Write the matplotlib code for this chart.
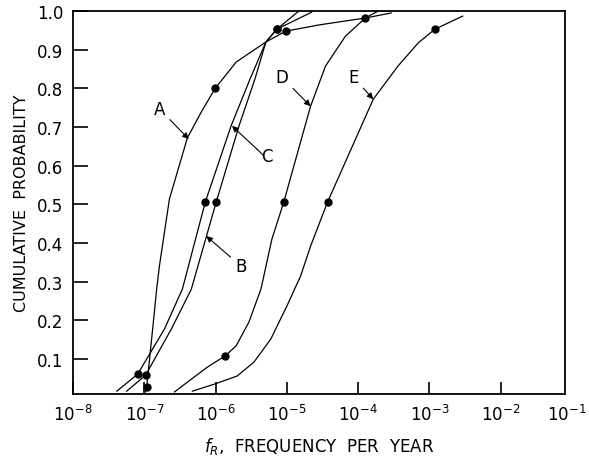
import matplotlib
matplotlib.use("Agg")
import matplotlib.pyplot as plt

plt.rcParams['font.family'] = ['DejaVu Sans']
plt.rcParams['mathtext.fontset'] = 'dejavusans'

# Curve data: frequency per year (x) and cumulative probability (y)
a_x = [1.04e-7, 1.08e-7, 1.31e-7, 1.49e-7, 1.63e-7, 2.25e-7, 4.02e-7, 6.3e-7, 9.87e-7, 1.94e-6, 5.08e-6, 9.66e-6, 2.79e-5, 1.26e-4, 2.9e-4]
a_y = [0.015, 0.028, 0.178, 0.281, 0.341, 0.514, 0.672, 0.739, 0.80, 0.868, 0.920, 0.948, 0.964, 0.982, 0.995]
a_dots_x = [1.08e-7, 9.87e-7, 9.66e-6]
a_dots_y = [0.028, 0.80, 0.948]

b_x = [5.66e-8, 1.04e-7, 2.40e-7, 4.57e-7, 1.02e-6, 2.13e-6, 3.56e-6, 5.08e-6, 7.22e-6, 2.22e-5]
b_y = [0.017, 0.058, 0.178, 0.281, 0.506, 0.703, 0.824, 0.920, 0.953, 0.997]
b_dots_x = [1.04e-7, 1.02e-6, 7.22e-6]
b_dots_y = [0.058, 0.506, 0.953]

c_x = [4.11e-8, 8.07e-8, 1.92e-7, 3.42e-7, 7.17e-7, 1.65e-6, 3.04e-6, 5.08e-6, 7.22e-6, 1.47e-5]
c_y = [0.017, 0.061, 0.178, 0.281, 0.506, 0.703, 0.824, 0.920, 0.953, 1.0]
c_dots_x = [8.07e-8, 7.17e-7, 7.22e-6]
c_dots_y = [0.061, 0.506, 0.953]

d_x = [2.65e-7, 4.57e-7, 7.64e-7, 1.36e-6, 1.94e-6, 2.94e-6, 4.33e-6, 6.16e-6, 9.05e-6, 2.15e-5, 3.49e-5, 6.63e-5, 1.26e-4, 1.91e-4]
d_y = [0.015, 0.048, 0.079, 0.108, 0.134, 0.196, 0.281, 0.410, 0.506, 0.754, 0.858, 0.935, 0.982, 1.0]
d_dots_x = [1.36e-6, 9.05e-6, 1.26e-4]
d_dots_y = [0.108, 0.506, 0.982]

e_x = [4.72e-7, 9.56e-7, 2.0e-6, 3.45e-6, 5.96e-6, 1.0e-5, 1.56e-5, 2.15e-5, 3.72e-5, 1.63e-4, 3.63e-4, 7.0e-4, 1.19e-3, 2.93e-3]
e_y = [0.017, 0.035, 0.056, 0.092, 0.152, 0.237, 0.315, 0.392, 0.506, 0.772, 0.858, 0.918, 0.953, 0.987]
e_dots_x = [3.72e-5, 1.19e-3]
e_dots_y = [0.506, 0.953]

y_ticks = [0.1, 0.2, 0.3, 0.4, 0.5, 0.6, 0.7, 0.8, 0.9, 1.0]
y_tick_labels = ['0.1', '0.2', '0.3', '0.4', '0.5', '0.6', '0.7', '0.8', '0.9', '1.0']
x_ticks = [1e-8, 1e-7, 1e-6, 1e-5, 1e-4, 1e-3, 1e-2]
x_tick_labels = [r'$10^{-8}$', r'$10^{-7}$', r'$10^{-6}$', r'$10^{-5}$', r'$10^{-4}$', r'$10^{-3}$', r'$10^{-2}$']
x_last_tick = 1e-1
x_last_label = r'$10^{-1}$'

fig = plt.figure(figsize=(5.89, 4.64), dpi=100)
ax = fig.add_axes([0.124, 0.149, 0.835, 0.825])

lw = 0.9
for xs, ys, dx, dy in [(a_x, a_y, a_dots_x, a_dots_y), (b_x, b_y, b_dots_x, b_dots_y),
                       (c_x, c_y, c_dots_x, c_dots_y), (d_x, d_y, d_dots_x, d_dots_y),
                       (e_x, e_y, e_dots_x, e_dots_y)]:
    ax.plot(xs, ys, color='black', lw=lw, clip_on=True)
    ax.plot(dx, dy, 'o', color='black', ms=5, clip_on=False)

ax.set_xscale('log')
ax.set_xlim(1e-8, 10 ** -1.1)
ax.set_ylim(0.01, 1.0)
ax.set_xticks(x_ticks)
ax.set_xticklabels(x_tick_labels)
ax.set_yticks(y_ticks)
ax.set_yticklabels(y_tick_labels)
ax.minorticks_off()
ax.tick_params(axis='y', direction='in', length=11, width=1.2, pad=7, labelsize=12)
ax.tick_params(axis='x', direction='in', length=8.5, width=1.2, pad=7, labelsize=12)
for s in ax.spines.values():
    s.set_linewidth(1.3)

# last decade label sits just past the right edge of the axes
ax.annotate(x_last_label, xy=(x_last_tick, 0), xycoords=('data', 'axes fraction'),
            xytext=(-4, -7), textcoords='offset points', ha='center', va='top',
            fontsize=12, annotation_clip=False)

ax.set_ylabel('CUMULATIVE  PROBABILITY', fontsize=11.5, labelpad=6)
ax.set_xlabel(r'$f_{R}$,  FREQUENCY  PER  YEAR', fontsize=12, labelpad=8)

arrow = dict(arrowstyle='-|>', color='black', lw=0.8, mutation_scale=9, shrinkA=2, shrinkB=0)
fs = 12
ax.annotate('A', xy=(4.2e-7, 0.669), xytext=(1.63e-7, 0.747), fontsize=fs,
            ha='center', va='center', arrowprops=arrow)
ax.annotate('B', xy=(7.4e-7, 0.418), xytext=(2.28e-6, 0.34), fontsize=fs,
            ha='center', va='center', arrowprops=arrow)
ax.plot([4.6e-6, 3.8e-6], [0.628, 0.643], color='black', lw=0.8)
ax.annotate('', xy=(1.7e-6, 0.703), xytext=(3.8e-6, 0.643),
            arrowprops=dict(arrowstyle='-|>', color='black', lw=0.8, mutation_scale=9, shrinkA=0, shrinkB=0))
ax.text(5.3e-6, 0.625, 'C', fontsize=fs, ha='center', va='center')
ax.annotate('D', xy=(2.15e-5, 0.754), xytext=(8.5e-6, 0.829), fontsize=fs,
            ha='center', va='center', arrowprops=arrow)
ax.annotate('E', xy=(1.63e-4, 0.772), xytext=(8.6e-5, 0.829), fontsize=fs,
            ha='center', va='center', arrowprops=arrow)

fig.savefig('out.png', dpi=100)
